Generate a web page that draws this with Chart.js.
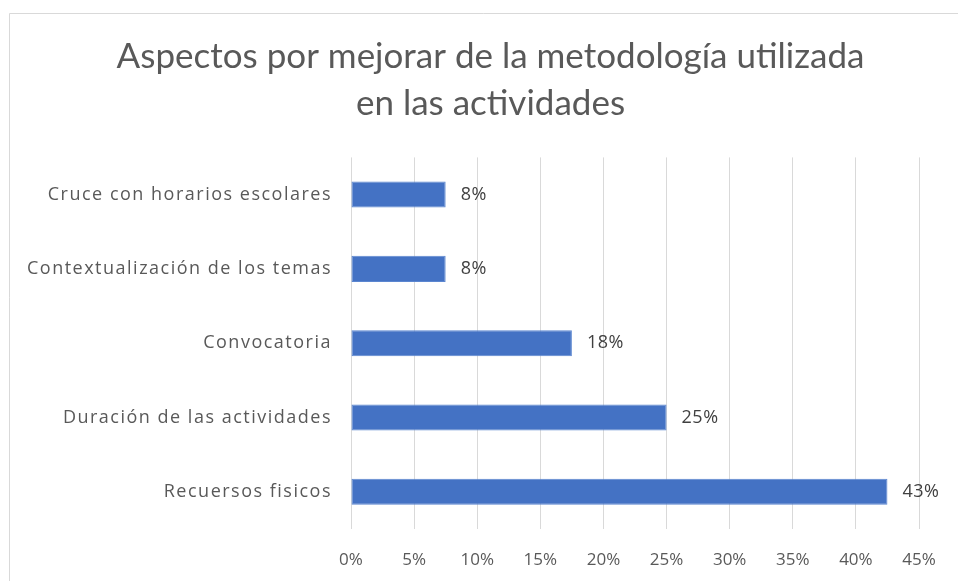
<!DOCTYPE html>
<html>
<head>
<meta charset="utf-8">
<script src="https://cdn.jsdelivr.net/npm/chart.js@4.4.0/dist/chart.umd.min.js"></script>
<style>
  html, body { margin: 0; padding: 0; background: #ffffff; }
  #wrap { width: 958px; height: 581px; position: relative; }
</style>
</head>
<body>
<div id="wrap"><canvas id="c" width="958" height="581"></canvas></div>
<script>
const categories = [
  "Cruce con horarios escolares",
  "Contextualización de los temas",
  "Convocatoria",
  "Duración de las actividades",
  "Recuersos fisicos"
];
const values = [7.5, 7.5, 17.5, 25, 42.5];
const titleLines = ["Aspectos por mejorar de la metodología utilizada", "en las actividades"];
const xMin = 0, xMax = 45, xStep = 5;

const TITLE_FONT = "Lato, 'Open Sans', sans-serif";
const FONT = "'Open Sans', Lato, sans-serif";

const frame = {
  id: 'frame',
  beforeDraw(chart) {
    const ctx = chart.ctx;
    ctx.save();
    ctx.fillStyle = '#ffffff';
    ctx.fillRect(0, 0, chart.width, chart.height);
    ctx.strokeStyle = '#d9d9d9';
    ctx.lineWidth = 1;
    ctx.beginPath();
    ctx.moveTo(9.5, chart.height);
    ctx.lineTo(9.5, 13.5);
    ctx.lineTo(chart.width, 13.5);
    ctx.stroke();
    ctx.restore();
  }
};

// centre the title over the chart frame like the reference (x 62..919)
const titleShift = {
  id: 'titleShift',
  afterLayout(chart) {
    const t = chart.titleBlock;
    if (t) { t.left = 62; t.width = t.right - t.left; }
  }
};

const labels = {
  id: 'barLabels',
  afterDatasetsDraw(chart) {
    const ctx = chart.ctx;
    const meta = chart.getDatasetMeta(0);
    ctx.save();
    ctx.font = "18px " + FONT;
    ctx.fillStyle = '#404040';
    ctx.textAlign = 'left';
    ctx.textBaseline = 'middle';
    if ('letterSpacing' in ctx) ctx.letterSpacing = '0.5px';
    meta.data.forEach((bar, i) => {
      ctx.fillText(Math.round(values[i]) + '%', bar.x + 15, bar.y);
    });
    ctx.restore();
  }
};

const chart = new Chart(document.getElementById('c'), {
  type: 'bar',
  data: {
    labels: categories,
    datasets: [{
      data: values,
      backgroundColor: '#4472c4',
      borderColor: '#5b86d0',
      borderWidth: 1,
      borderSkipped: false,
      categoryPercentage: 1.0,
      barPercentage: 0.35
    }]
  },
  options: {
    indexAxis: 'y',
    responsive: false,
    animation: false,
    devicePixelRatio: 1,
    layout: { padding: { left: 0, right: 39, top: 0, bottom: 0 } },
    plugins: {
      legend: { display: false },
      tooltip: { enabled: false },
      title: {
        display: true,
        text: titleLines,
        color: '#595959',
        font: { family: TITLE_FONT, size: 35, weight: 'normal', lineHeight: 1.32 },
        padding: { top: 34, bottom: 31 },
        align: 'center'
      }
    },
    scales: {
      x: {
        min: xMin, max: xMax,
        ticks: {
          stepSize: xStep,
          callback: v => v + '%',
          color: '#595959',
          font: { family: FONT, size: 17 },
          padding: 21
        },
        grid: { color: '#d9d9d9', drawTicks: false, lineWidth: 1 },
        border: { display: false },
        afterFit(scale) { scale.height = 52; }
      },
      y: {
        ticks: {
          color: '#595959',
          font: { family: FONT, size: 18 },
          padding: 19
        },
        grid: { display: false, drawTicks: false },
        border: { display: false },
        afterFit(scale) { scale.width = 351; }
      }
    }
  },
  plugins: [frame, titleShift, labels]
});

// widen category labels slightly (reference text is loosely spaced)
const yScale = chart.scales.y;
const origDrawLabels = yScale.drawLabels.bind(yScale);
yScale.drawLabels = function (area) {
  const ctx = chart.ctx;
  ctx.save();
  if ('letterSpacing' in ctx) ctx.letterSpacing = '1.5px';
  origDrawLabels(area);
  ctx.restore();
};
chart.draw();
</script>
</body>
</html>
